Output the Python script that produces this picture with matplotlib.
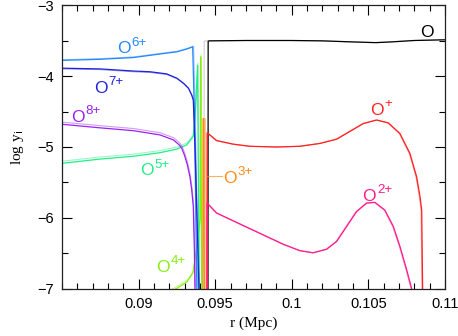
import numpy as np
import matplotlib
matplotlib.use("Agg")
import matplotlib.pyplot as plt
from matplotlib.ticker import MultipleLocator

plt.rcParams['font.family'] = ['Liberation Sans', 'DejaVu Sans']
plt.rcParams['mathtext.default'] = 'regular'

# oxygen ion fractions, log y_i vs r (Mpc)
r_O = [0.09453, 0.09454, 0.0946, 0.097, 0.100, 0.102, 0.104, 0.1055, 0.1065, 0.108, 0.110]
y_O = [-7.0, -3.51, -3.505, -3.50, -3.50, -3.505, -3.52, -3.53, -3.52, -3.50, -3.49]

r_O1 = [0.09448, 0.09449, 0.0951, 0.09618, 0.09727, 0.09901, 0.10053, 0.10184, 0.10293,
        0.1038, 0.10467, 0.10554, 0.1063, 0.10706, 0.10771, 0.10815, 0.10837, 0.10848, 0.10854]
y_O1 = [-7.0, -4.80, -4.91, -4.96, -4.99, -5.00, -4.99, -4.95, -4.89,
        -4.78, -4.67, -4.62, -4.66, -4.81, -5.09, -5.42, -5.70, -5.89, -7.0]

r_O2 = [0.09446, 0.09448, 0.0951, 0.09618, 0.09727, 0.09836, 0.09945, 0.10053, 0.1014,
        0.10228, 0.10293, 0.10358, 0.10423, 0.10489, 0.10543, 0.10608, 0.10663, 0.10706,
        0.1075, 0.10783]
y_O2 = [-7.0, -5.79, -5.93, -6.04, -6.15, -6.26, -6.37, -6.46, -6.49,
        -6.44, -6.33, -6.12, -5.91, -5.79, -5.78, -5.89, -6.12, -6.40,
        -6.73, -7.0]

r_O3 = [0.09418, 0.09421, 0.09425, 0.09429]
y_O3 = [-7.0, -4.6, -4.6, -7.0]

r_O4 = [0.0920, 0.0925, 0.09316, 0.09355, 0.0938, 0.09402, 0.09405, 0.09412]
y_O4 = [-7.05, -6.99, -6.90, -6.77, -6.4, -6.0, -3.73, -7.0]

r_O5 = [0.085, 0.08748, 0.08966, 0.0914, 0.09249, 0.09314, 0.09357, 0.0937, 0.09385, 0.09395]
y_O5 = [-5.23, -5.17, -5.13, -5.08, -5.03, -4.97, -4.85, -4.5, -3.85, -7.0]

r_O6 = [0.085, 0.08748, 0.08966, 0.0914, 0.09249, 0.09314, 0.09353, 0.09365, 0.0938]
y_O6 = [-3.78, -3.765, -3.74, -3.69, -3.66, -3.62, -3.59, -4.6, -7.0]

r_O7 = [0.085, 0.08748, 0.08966, 0.09074, 0.09183, 0.09249, 0.09292, 0.09325, 0.09347,
        0.09357, 0.09368, 0.09394]
y_O7 = [-3.89, -3.90, -3.93, -3.94, -3.97, -4.03, -4.10, -4.17, -4.27,
        -4.34, -5.0, -7.0]

r_O8 = [0.085, 0.08748, 0.08966, 0.0914, 0.09227, 0.09265, 0.09282, 0.093, 0.09318,
        0.09335, 0.09347, 0.09357, 0.09364, 0.09368]
y_O8 = [-4.68, -4.73, -4.77, -4.83, -4.90, -4.97, -5.02, -5.12, -5.25,
        -5.42, -5.61, -5.84, -6.45, -7.0]

# label anchors (left edge of "O", baseline) and charge superscripts
ions = [
    (r_O, y_O, 'k', '', 0.10839, -3.455),
    (r_O1, y_O1, '#ff2222', '+', 0.10511, -4.55),
    (r_O2, y_O2, '#ff1a8c', '2+', 0.10462, -5.76),
    (r_O3, y_O3, '#ff8c1a', '3+', 0.09551, -5.51),
    (r_O4, y_O4, '#88ee11', '4+', 0.09114, -6.76),
    (r_O5, y_O5, '#22ee88', '5+', 0.09009, -5.40),
    (r_O6, y_O6, '#2288ff', '6+', 0.08861, -3.68),
    (r_O7, y_O7, '#2222dd', '7+', 0.08711, -4.24),
    (r_O8, y_O8, '#9922ee', '8+', 0.08559, -4.65),
]

# second (paler) model run, shifted slightly
twin_shift = {'k': (-0.00026, 0.0), '#ff2222': (-0.00004, 0.0), '#ff1a8c': (-0.00004, 0.0),
              '#ff8c1a': (0.0001, 0.0), '#88ee11': (0.00004, 0.03), '#22ee88': (0.00003, 0.03),
              '#2288ff': (0.00006, 0.01), '#2222dd': (0.00003, -0.01), '#9922ee': (0.00002, 0.03)}

fig = plt.figure(figsize=(4.58, 3.36), dpi=100)
ax = fig.add_axes([0.1354, 0.1399, 0.8362, 0.8452])

for r, y, c, sup, tx, ty in ions:
    dx, dy = twin_shift[c]
    tc = '#999999' if c == 'k' else c
    ax.plot(np.array(r) + dx, np.array(y) + dy, color=tc, lw=0.8, alpha=0.45)
    ax.plot(r, y, color=c, lw=0.9)
    ax.text(tx, ty, 'O', color=c, fontsize=12.5, ha='left', va='baseline')
    if sup:
        ax.annotate(sup, xy=(tx, ty), xytext=(10.3, 5.6), textcoords='offset points',
                    color=c, fontsize=9.6, ha='left', va='baseline')

# leader line for O3+
ax.plot([0.09447, 0.09543], [-5.41, -5.41], color='#ff8c1a', lw=0.8, alpha=0.7)

ax.set_xlim(0.085, 0.11)
ax.set_ylim(-7, -3)
ax.xaxis.set_minor_locator(MultipleLocator(0.001))
ax.yaxis.set_major_locator(MultipleLocator(1))
ax.yaxis.set_minor_locator(MultipleLocator(0.5))
ax.set_xticks([0.09, 0.095, 0.1, 0.105, 0.11])
ax.set_xticklabels(['0.09', '0.095', '0.1', '0.105', '0.11'])
ax.tick_params(which='both', direction='in', top=True, right=True, labelsize=10.5, pad=6)
ax.tick_params(which='major', length=7, width=0.8)
ax.tick_params(which='minor', length=4, width=0.8)
for s in ax.spines.values():
    s.set_linewidth(0.9)
    s.set_color('#222222')

ax.set_xlabel('r (Mpc)', fontfamily='Liberation Serif', fontsize=11)
ax.set_ylabel('log y$_{\\rm i}$', fontfamily='Liberation Serif', fontsize=11, labelpad=8)

fig.savefig('out.png', dpi=100)
